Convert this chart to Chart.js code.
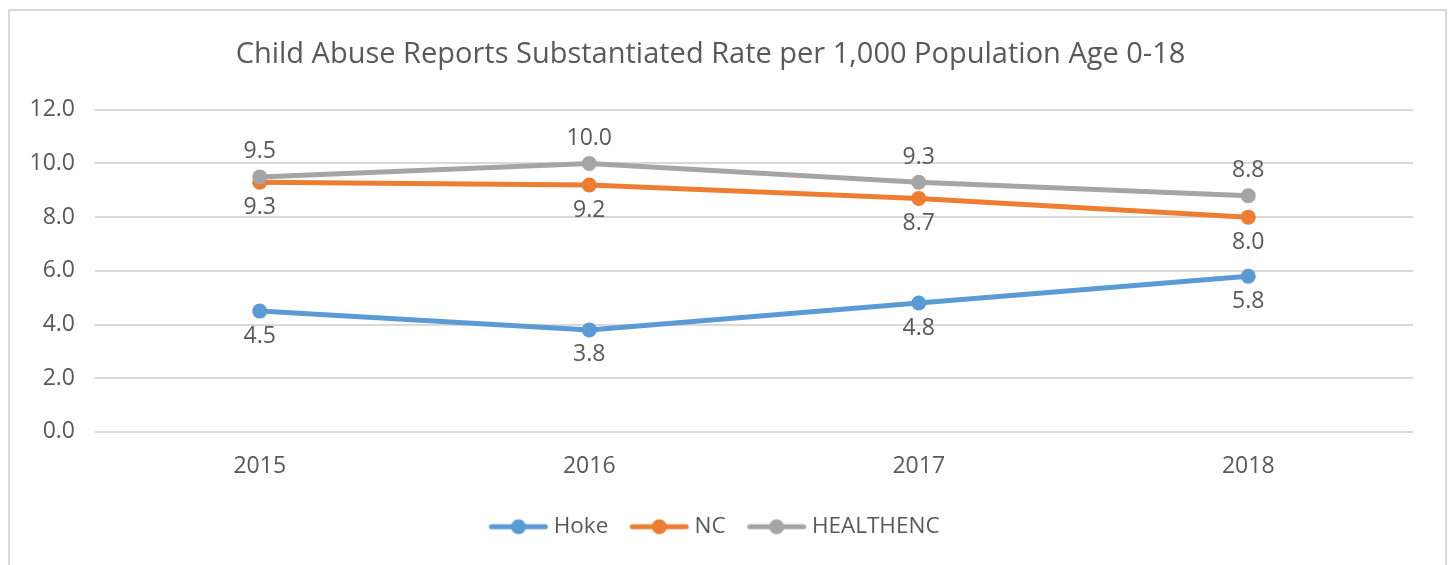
<!DOCTYPE html>
<html>
<head>
<meta charset="utf-8">
<script src="https://cdn.jsdelivr.net/npm/chart.js@4/dist/chart.umd.min.js"></script>
<style>
html,body{margin:0;padding:0;background:#fff;}
#wrap{position:relative;width:1450px;height:565px;}
</style>
</head>
<body>
<div id="wrap"><canvas id="c" width="1450" height="565"></canvas></div>
<script>
const categories = ['2015', '2016', '2017', '2018'];
const hoke = [4.5, 3.8, 4.8, 5.8];
const nc = [9.3, 9.2, 8.7, 8.0];
const healthenc = [9.5, 10.0, 9.3, 8.8];
const seriesNames = ['Hoke', 'NC', 'HEALTHENC'];
const yTicks = [0, 2, 4, 6, 8, 10, 12];
const titleText = 'Child Abuse Reports Substantiated Rate per 1,000 Population Age 0-18';

const FONT = "'Open Sans', sans-serif";
const TEXT = '#595959';
const colors = ['#5B9BD5', '#ED7D31', '#A5A5A5'];
const labelPos = ['below', 'below', 'above'];

// legend icon: 13px blank lead-in, then a 60px line with a dot in the middle
function legendIcon(color) {
  const cv = document.createElement('canvas');
  cv.width = 73; cv.height = 18;
  const g = cv.getContext('2d');
  g.strokeStyle = color; g.lineWidth = 5; g.lineCap = 'round';
  g.beginPath(); g.moveTo(16, 9); g.lineTo(70, 9); g.stroke();
  g.fillStyle = color; g.beginPath(); g.arc(43, 9, 7.5, 0, Math.PI * 2); g.fill();
  return cv;
}
const icons = colors.map(legendIcon);

const borderPlugin = {
  id: 'border',
  beforeDraw(chart) {
    const ctx = chart.ctx;
    ctx.save();
    ctx.strokeStyle = '#d9d9d9';
    ctx.lineWidth = 2;
    ctx.strokeRect(9, 10, 1437, 600);
    ctx.restore();
  }
};

const dataLabelPlugin = {
  id: 'dlabels',
  afterDatasetsDraw(chart) {
    const ctx = chart.ctx;
    ctx.save();
    ctx.font = '23px ' + FONT;
    ctx.fillStyle = TEXT;
    ctx.textAlign = 'center';
    ctx.textBaseline = 'middle';
    chart.data.datasets.forEach((ds, i) => {
      const meta = chart.getDatasetMeta(i);
      meta.data.forEach((pt, j) => {
        const off = labelPos[i] === 'above' ? -25 : 25;
        ctx.fillText(ds.data[j].toFixed(1), pt.x, pt.y + off);
      });
    });
    ctx.restore();
  }
};

const seriesData = [hoke, nc, healthenc];
new Chart(document.getElementById('c'), {
  type: 'line',
  data: {
    labels: categories,
    datasets: seriesData.map((d, i) => ({
      label: seriesNames[i],
      data: d,
      borderColor: colors[i],
      backgroundColor: colors[i],
      borderWidth: 5,
      pointRadius: 7.5,
      pointHoverRadius: 7.5,
      pointBorderWidth: 0,
      pointStyle: 'circle',
      tension: 0,
      order: 3 - i
    }))
  },
  options: {
    responsive: false,
    animation: false,
    events: [],
    layout: { padding: { left: 8, right: 37, top: 0, bottom: 17 } },
    plugins: {
      title: {
        display: true,
        text: titleText,
        color: TEXT,
        font: { family: FONT, size: 29, weight: 'normal' },
        padding: { top: 37, bottom: 38 }
      },
      legend: {
        position: 'bottom',
        labels: {
          usePointStyle: true,
          pointStyleWidth: 61,
          padding: 14,
          color: TEXT,
          font: { family: FONT, size: 22.5 },
          generateLabels(chart) {
            return chart.data.datasets.map((ds, i) => ({
              text: ds.label,
              pointStyle: icons[i],
              fillStyle: colors[i],
              strokeStyle: colors[i],
              lineWidth: 0,
              hidden: false,
              datasetIndex: i,
              fontColor: TEXT
            }));
          }
        }
      },
      tooltip: { enabled: false }
    },
    scales: {
      x: {
        offset: true,
        grid: { display: false, drawTicks: false },
        border: { display: false },
        ticks: { color: TEXT, padding: 21, font: { family: FONT, size: 23 } }
      },
      y: {
        min: 0, max: 12,
        afterBuildTicks(scale) { scale.ticks = yTicks.map(v => ({ value: v })); },
        afterFit(scale) { scale.width = 87; },
        grid: { color: '#d9d9d9', lineWidth: 2, drawTicks: false },
        border: { display: false },
        ticks: {
          color: TEXT, padding: 20, font: { family: FONT, size: 23 },
          callback: v => v.toFixed(1)
        }
      }
    }
  },
  plugins: [borderPlugin, dataLabelPlugin]
});
</script>
</body>
</html>
